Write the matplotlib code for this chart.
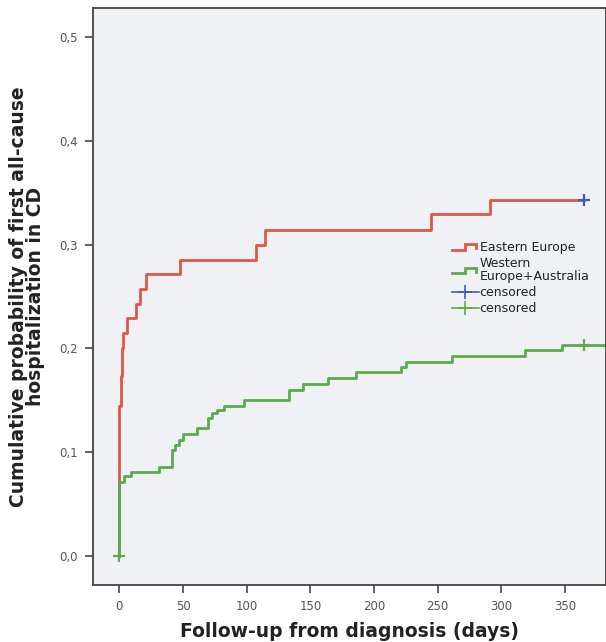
import numpy as np
import matplotlib
matplotlib.use("Agg")
import matplotlib.pyplot as plt
from matplotlib.legend_handler import HandlerBase
from matplotlib.lines import Line2D

# Kaplan-Meier style cumulative incidence
east_days = [0, 0, 1, 2, 3, 6, 13, 16, 21, 48, 107, 114, 245, 291, 365]
east_prob = [0.0, 0.144, 0.173, 0.200, 0.2145, 0.229, 0.243, 0.257, 0.272,
             0.285, 0.300, 0.314, 0.329, 0.343, 0.343]

west_days = [0, 0, 4, 9, 31, 41, 44, 47, 50, 61, 70, 73, 77, 82, 98, 133,
             144, 163.5, 185.5, 221.5, 225, 261.6, 319, 348, 400]
west_prob = [0.0, 0.0716, 0.077, 0.0806, 0.086, 0.102, 0.107, 0.112, 0.117,
             0.123, 0.133, 0.138, 0.141, 0.144, 0.150, 0.160, 0.166, 0.171,
             0.177, 0.182, 0.187, 0.193, 0.198, 0.203, 0.203]

east_cens_days = [365]
east_cens_prob = [0.343]
west_cens_days = [0, 365]
west_cens_prob = [0.0, 0.203]

x_ticks = [0, 50, 100, 150, 200, 250, 300, 350]
y_ticks = [0.0, 0.1, 0.2, 0.3, 0.4, 0.5]

RED = '#e0564a'
GREEN = '#5aab4a'
BLUE = '#3f5bbf'


class StepHandler(HandlerBase):
    def create_artists(self, legend, orig_handle, xdescent, ydescent,
                       width, height, fontsize, trans):
        x0 = -xdescent
        y0 = -ydescent
        xs = [x0, x0 + 0.5 * width, x0 + 0.5 * width, x0 + 0.9 * width, x0 + 0.9 * width]
        ys = [y0 + 0.2 * height, y0 + 0.2 * height, y0 + 0.8 * height,
              y0 + 0.8 * height, y0 + 0.4 * height]
        line = Line2D(xs, ys, color=orig_handle.get_color(), lw=2.0,
                      solid_joinstyle='miter', transform=trans)
        return [line]


fig = plt.figure(figsize=(6.06, 6.42), dpi=100)
ax = fig.add_axes([0.1535, 0.0888, 0.846, 0.899])
ax.set_facecolor('#eff1f5')

l_east, = ax.step(east_days, east_prob, where='post', color=RED, lw=2.0)
l_west, = ax.step(west_days, west_prob, where='post', color=GREEN, lw=2.0)
c_east, = ax.plot(east_cens_days, east_cens_prob, ls='none', marker='+',
                  ms=9, mew=1.6, color=BLUE)
c_west, = ax.plot(west_cens_days, west_cens_prob, ls='none', marker='+',
                  ms=9, mew=1.6, color=GREEN)

ax.set_xlim(-20.7, 382)
ax.set_ylim(-0.028, 0.528)
ax.set_xticks(x_ticks)
ax.set_yticks(y_ticks)
ax.set_yticklabels([f'{v:.1f}'.replace('.', ',') for v in y_ticks])
ax.tick_params(axis='both', length=6, width=1.2, color='#444444',
               labelsize=8.5, labelcolor='#555555', pad=5)

for s in ax.spines.values():
    s.set_color('#444444')
    s.set_linewidth(1.3)

ax.set_xlabel('Follow-up from diagnosis (days)', fontsize=13.5, fontweight='bold',
              color='#222222', labelpad=6)
ax.set_ylabel('Cumulative probability of first all-cause\nhospitalization in CD',
              fontsize=13.5, fontweight='bold', color='#222222', labelpad=10,
              linespacing=0.9)

# legend handles for censored marks: line with cross
h_ce = Line2D([], [], color=BLUE, lw=1.2, marker='+', ms=10, mew=1.2)
h_cw = Line2D([], [], color=GREEN, lw=1.2, marker='+', ms=10, mew=1.2)
leg = ax.legend([l_east, l_west, h_ce, h_cw],
                ['Eastern Europe', 'Western\nEurope+Australia', 'censored', 'censored'],
                handler_map={l_east: StepHandler(), l_west: StepHandler()},
                loc='upper left', bbox_to_anchor=(446 / 606, 1 - 235 / 642),
                bbox_transform=fig.transFigure, frameon=False, fontsize=9,
                handlelength=2.1, handletextpad=0.1, labelspacing=0.25,
                borderpad=0)
for t in leg.get_texts():
    t.set_color('#222222')
    t.set_linespacing(0.95)

fig.savefig('out.png', dpi=100)
